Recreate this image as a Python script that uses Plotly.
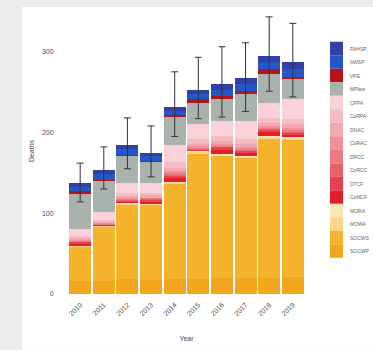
"""Stacked deaths by cause per year, with error bars."""

import numpy as np
import plotly.graph_objects as go

years = ["2010", "2011", "2012", "2013", "2014", "2015", "2016", "2017", "2018", "2019"]

# causes, listed top of stack -> bottom of stack (same as legend)
causes = ["PAHSP", "AWSP", "VPE", "MPlaw", "CPPA", "CoRPA", "DNAC", "CoRAC",
          "DRCC", "CoRCC", "DTCF", "CoMCF", "MORA", "MOWA", "SOCWS", "SOCWP"]

PAHSP = [4, 6, 6, 4, 5, 5, 7, 7, 7, 8]
AWSP = [6, 7, 7, 6, 6, 7, 8, 9, 8, 10]
VPE = [3, 1, 1, 1, 1, 4, 4, 4, 7, 2]
MPlaw = [43, 39, 34, 27, 35, 27, 27, 33, 35, 26]
CPPA = [9, 9, 12, 12, 22, 18, 19, 22, 19, 24]
CoRPA = [3, 2, 4, 3, 7, 6, 5, 6, 6, 7]
DNAC = [2, 2, 2, 2, 4, 3, 4, 4, 4, 5]
CoRAC = [1, 1, 1, 1, 2, 2, 2, 2, 2, 2]
DRCC = [1, 1, 1, 1, 2, 1, 1, 2, 1, 2]
CoRCC = [0, 0, 1, 1, 1, 1, 1, 1, 1, 1]
DTCF = [2, 0, 1, 2, 3, 1, 4, 2, 3, 2]
CoMCF = [3, 1, 2, 3, 5, 1, 5, 4, 5, 4]
MORA = [0, 0, 1, 0, 1, 1, 1, 1, 1, 1]
MOWA = [1, 1, 1, 1, 1, 2, 1, 1, 2, 2]
SOCWS = [43, 68, 93, 94, 119, 155, 151, 149, 173, 170]
SOCWP = [16, 16, 18, 17, 18, 19, 20, 20, 20, 21]

err_hi = [162, 182, 218, 208, 275, 293, 306, 311, 343, 335]
err_lo = [114, 130, 155, 145, 195, 217, 219, 226, 251, 244]

colors = ["#3040a6", "#2456c6", "#b3161a", "#aab2ae", "#f9d2d9", "#f6bcc4",
          "#f3a9b1", "#ef9199", "#ec7a82", "#e9616a", "#e6424f", "#e31e2b",
          "#fde6b4", "#fbd58c", "#f5b22c", "#f2a61e"]

series = [PAHSP, AWSP, VPE, MPlaw, CPPA, CoRPA, DNAC, CoRAC,
          DRCC, CoRCC, DTCF, CoMCF, MORA, MOWA, SOCWS, SOCWP]

FONT = "Liberation Sans, Arial, sans-serif"
TXT = "#4d4d4d"

# plot area in pixels
L, R, T, B = 66, 307, 8, 296
W, H = 373, 350


def px_x(p):
    return (p - L) / (R - L)


def px_y(p):
    return (B - p) / (B - T)


fig = go.Figure()

# bottom of stack first
for name, vals, col in reversed(list(zip(causes, series, colors))):
    fig.add_trace(go.Bar(x=years, y=vals, name=name, marker_color=col,
                         marker_line_width=0, showlegend=False))

totals = np.sum(np.array(series), axis=0)
fig.add_trace(go.Scatter(
    x=years, y=totals, mode="markers", marker=dict(size=0.1, color="rgba(0,0,0,0)"),
    showlegend=False, hoverinfo="skip",
    error_y=dict(type="data", symmetric=False,
                 array=np.array(err_hi) - totals, arrayminus=totals - np.array(err_lo),
                 color="#333333", thickness=1, width=3.5),
))

shapes = [dict(type="rect", xref="paper", yref="paper", layer="below",
               x0=px_x(22), x1=px_x(W + 2), y0=px_y(H + 2), y1=px_y(7),
               fillcolor="white", line_width=0)]
annotations = []

# legend keys, drawn by hand so they stack tightly like the original
key_top, key_h = 42, 13.6
for i, (name, col) in enumerate(zip(causes, colors)):
    y0 = key_top + i * key_h
    shapes.append(dict(type="rect", xref="paper", yref="paper",
                       x0=px_x(330), x1=px_x(343), y0=px_y(y0 + key_h), y1=px_y(y0),
                       fillcolor=col, line_width=0))
    annotations.append(dict(text=name, xref="paper", yref="paper",
                            x=px_x(348), y=px_y(y0 + key_h / 2),
                            xanchor="left", yanchor="middle", showarrow=False,
                            font=dict(size=5, color="#666666", family=FONT)))

fig.update_layout(
    width=W, height=H,
    barmode="stack", bargap=0.07,
    paper_bgcolor="#ebebeb", plot_bgcolor="white",
    margin=dict(l=L, r=W - R, t=T, b=H - B),
    font=dict(family=FONT, size=7, color=TXT),
    shapes=shapes, annotations=annotations,
    showlegend=False,
)
fig.update_xaxes(range=[-0.6, 9.6], tickangle=-45, showgrid=False, zeroline=False,
                 ticks="outside", ticklen=3, tickcolor="rgba(0,0,0,0)",
                 title=dict(text="Year", standoff=20, font=dict(size=7)))
fig.update_yaxes(range=[0, 354], tickvals=[0, 100, 200, 300], showgrid=False,
                 zeroline=False, ticks="outside", ticklen=10, tickcolor="rgba(0,0,0,0)",
                 title=dict(text="Deaths", standoff=6, font=dict(size=7)))

# page has a default body margin; drop it so the figure fills the window
fig.write_html("out.html", config={"displayModeBar": False},
               post_script="document.body.style.margin='0';")
